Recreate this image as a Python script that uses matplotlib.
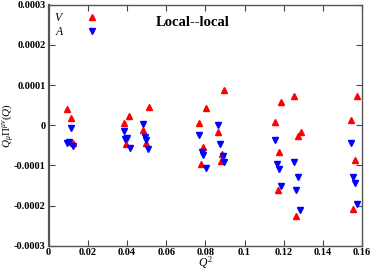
import matplotlib
matplotlib.use("Agg")
import matplotlib.pyplot as plt

plt.rcParams['font.family'] = ['Liberation Serif', 'DejaVu Serif']
plt.rcParams['mathtext.fontset'] = 'custom'
plt.rcParams['mathtext.rm'] = 'Liberation Serif'
plt.rcParams['mathtext.it'] = 'Liberation Serif:italic'
plt.rcParams['mathtext.bf'] = 'Liberation Serif:bold'

# vector channel (red, up triangles)
v_q2 = [0.0094, 0.0115, 0.0123,
        0.0384, 0.0412, 0.0396, 0.0511, 0.0480, 0.0496,
        0.0897, 0.0802, 0.0770, 0.0866, 0.0790, 0.0887, 0.0879, 0.0778,
        0.1254, 0.1186, 0.1157, 0.1287, 0.1274, 0.1178, 0.1169, 0.1264,
        0.1574, 0.1543, 0.1562, 0.1552]
v_val = [4.0e-5, 1.75e-5, -4.35e-5,
         0.5e-5, 2.3e-5, -4.6e-5, 4.65e-5, -1.3e-5, -4.5e-5,
         8.8e-5, 4.4e-5, 0.65e-5, -1.75e-5, -5.4e-5, -7.2e-5, -8.9e-5, -9.75e-5,
         7.3e-5, 5.9e-5, 0.9e-5, -1.6e-5, -2.6e-5, -6.6e-5, -16.2e-5, -22.7e-5,
         7.4e-5, 1.33e-5, -8.7e-5, -20.8e-5]

# axial channel (blue, down triangles)
a_q2 = [0.0115, 0.0093, 0.0105, 0.0127,
        0.0384, 0.0400, 0.0392, 0.0416, 0.0480, 0.0492, 0.0497, 0.0509,
        0.0866, 0.0770, 0.0877, 0.0782, 0.0790, 0.0889, 0.0897, 0.0802,
        0.1157, 0.1167, 0.1176, 0.1254, 0.1274, 0.1186, 0.1263, 0.1283,
        0.1543, 0.1552, 0.1562, 0.1574]
a_val = [-0.75e-5, -4.35e-5, -4.1e-5, -5.2e-5,
         -1.4e-5, -3.1e-5, -3.3e-5, -5.75e-5, 0.2e-5, -3.0e-5, -3.7e-5, -5.8e-5,
         0.1e-5, -2.5e-5, -4.7e-5, -6.75e-5, -7.4e-5, -7.6e-5, -9.1e-5, -10.6e-5,
         -3.7e-5, -9.7e-5, -11.0e-5, -9.1e-5, -13.0e-5, -15.2e-5, -16.2e-5, -21.2e-5,
         -4.35e-5, -12.8e-5, -14.5e-5, -19.7e-5]

xticks = [0, 0.02, 0.04, 0.06, 0.08, 0.1, 0.12, 0.14, 0.16]
xlabels = ['0', '0.02', '0.04', '0.06', '0.08', '0.1', '0.12', '0.14', '0.16']
yticks = [-0.0003, -0.0002, -0.0001, 0, 0.0001, 0.0002, 0.0003]
ylabels = ['-0.0003', '-0.0002', '-0.0001', '0', '0.0001', '0.0002', '0.0003']

fig = plt.figure(figsize=(3.74, 2.70), dpi=100)
ax = fig.add_axes([0.13, 0.09, 0.838, 0.892])

ax.plot(v_q2, v_val, linestyle='none', marker='^', ms=5, color='#ff0000',
        mec='#ff0000', label='$V$')
ax.plot(a_q2, a_val, linestyle='none', marker='v', ms=5, color='#0000ff',
        mec='#0000ff', label='$A$')

ax.set_xlim(0, 0.16)
ax.set_ylim(-0.0003, 0.0003)
ax.set_xticks(xticks)
ax.set_xticklabels(xlabels, fontweight='bold')
ax.set_yticks(yticks)
ax.set_yticklabels(ylabels, fontweight='bold')
ax.tick_params(direction='in', top=True, right=True, length=4, width=0.8,
               labelsize=7.5, pad=2, color='#444444')
for s in ax.spines.values():
    s.set_color('#555555')
    s.set_linewidth(1.0)
ax.spines['left'].set_linewidth(1.6)

ax.set_xlabel('$Q^2$', fontsize=8.5, labelpad=-2)
ax.set_ylabel(r'$\tilde{Q}_\mu\Pi^{\mu\nu}(Q)$', fontsize=8, labelpad=-2)

ax.text(0.46, 0.925, 'Local--local', transform=ax.transAxes, ha='center',
        va='center', fontsize=10.5, fontweight='bold')

ax.legend(loc='upper left', frameon=False, markerfirst=False, fontsize=8.5,
          handlelength=1.0, handletextpad=1.8, labelspacing=0.15,
          borderaxespad=0.2, bbox_to_anchor=(-0.005, 1.0))

fig.savefig('out.png', dpi=100)
